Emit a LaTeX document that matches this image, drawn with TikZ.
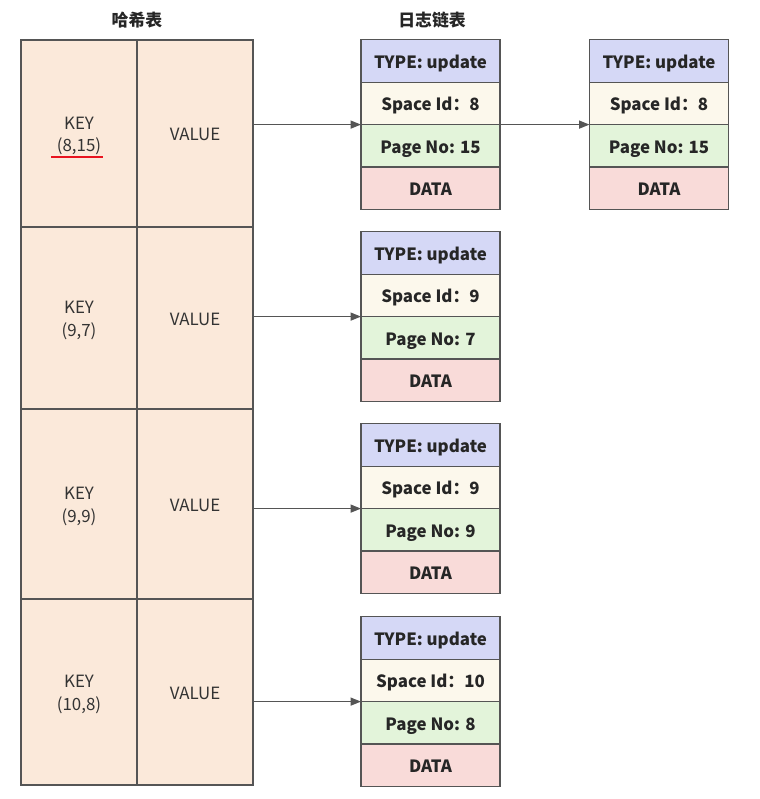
\documentclass[tikz,border=0pt]{standalone}
\usepackage{fontspec}
\setmainfont{Noto Sans CJK SC}
\usetikzlibrary{positioning}
\usetikzlibrary{arrows.meta}

\definecolor{linegray}{HTML}{555555}
\definecolor{keytext}{HTML}{333333}
\definecolor{logtext}{HTML}{262626}
\definecolor{hashfill}{HTML}{FBE9DA}
\definecolor{typefill}{HTML}{D5D8F6}
\definecolor{spacefill}{HTML}{FCF8EC}
\definecolor{pagefill}{HTML}{E3F4DA}
\definecolor{datafill}{HTML}{F9DBD9}
\definecolor{squiggle}{HTML}{E8131F}

\tikzset{
  cell/.style = {draw=linegray, line width=0.9pt, inner sep=0pt, outer sep=0pt, align=center},
  hashcell/.style = {cell, fill=hashfill, text=keytext, minimum width=2.9cm,
                     font=\fontsize{12}{16}\selectfont, text height=12pt, text depth=2pt},
  keycell/.style = {hashcell, text height=28pt, text depth=2pt},
  logcell/.style = {cell, minimum width=3.475cm, minimum height=1.06cm, text=logtext,
                    font=\fontsize{12}{14}\selectfont\bfseries, text height=12.5pt, text depth=2pt},
  typecell/.style = {logcell, fill=typefill},
  spacecell/.style = {logcell, fill=spacefill},
  pagecell/.style = {logcell, fill=pagefill},
  datacell/.style = {logcell, fill=datafill},
  title/.style = {text=logtext, font=\fontsize{12}{14}\selectfont\bfseries},
  link/.style = {draw=linegray, line width=0.9pt, -{Triangle[length=2.6mm,width=2mm]}}
}

\begin{document}
\begin{tikzpicture}

            % \draw [help lines] (0,0) grid (19,-20);
            \useasboundingbox (0,0) rectangle (19,-19.975);

            \node (hashtitle) [title] at (3.425,-0.5) {哈希表};
            \node (logtitle) [title] at (10.8,-0.5) {日志链表};

            \path   (1.975,-3.3375) node (k1) [keycell, minimum height=4.675cm] {KEY\\(8,15)}
                    (4.875,-3.3375) node (v1) [hashcell, minimum height=4.675cm] {VALUE}
                    (1.975,-7.95)   node (k2) [keycell, minimum height=4.55cm] {KEY\\(9,7)}
                    (4.875,-7.95)   node (v2) [hashcell, minimum height=4.55cm] {VALUE}
                    (1.975,-12.6)   node (k3) [keycell, minimum height=4.75cm] {KEY\\(9,9)}
                    (4.875,-12.6)   node (v3) [hashcell, minimum height=4.75cm] {VALUE}
                    (1.975,-17.3)   node (k4) [keycell, minimum height=4.65cm] {KEY\\(10,8)}
                    (4.875,-17.3)   node (v4) [hashcell, minimum height=4.65cm] {VALUE};

            \draw [squiggle, line width=1pt] (1.275,-3.925) -- (2.575,-3.925);

            % first chain, two entries
            \node (t1) [typecell] at (10.7625,-1.525) {TYPE: update};
            \node (s1) [spacecell, below=0pt of t1] {Space Id：8};
            \node (p1) [pagecell, below=0pt of s1] {Page No: 15};
            \node (d1) [datacell, below=0pt of p1] {DATA};

            \node (t1b) [typecell] at (16.475,-1.525) {TYPE: update};
            \node (s1b) [spacecell, below=0pt of t1b] {Space Id：8};
            \node (p1b) [pagecell, below=0pt of s1b] {Page No: 15};
            \node (d1b) [datacell, below=0pt of p1b] {DATA};

            \node (t2) [typecell] at (10.7625,-6.325) {TYPE: update};
            \node (s2) [spacecell, below=0pt of t2] {Space Id：9};
            \node (p2) [pagecell, below=0pt of s2] {Page No: 7};
            \node (d2) [datacell, below=0pt of p2] {DATA};

            \node (t3) [typecell] at (10.7625,-11.125) {TYPE: update};
            \node (s3) [spacecell, below=0pt of t3] {Space Id：9};
            \node (p3) [pagecell, below=0pt of s3] {Page No: 9};
            \node (d3) [datacell, below=0pt of p3] {DATA};

            \node (t4) [typecell] at (10.7625,-15.95) {TYPE: update};
            \node (s4) [spacecell, below=0pt of t4] {Space Id：10};
            \node (p4) [pagecell, below=0pt of s4] {Page No: 8};
            \node (d4) [datacell, below=0pt of p4] {DATA};

            \draw [link] (s1.south west -| v1.east) -- (s1.south west);
            \draw [link] (s1.south east) -- (s1b.south west);
            \draw [link] (s2.south west -| v2.east) -- (s2.south west);
            \draw [link] (s3.south west -| v3.east) -- (s3.south west);
            \draw [link] (s4.south west -| v4.east) -- (s4.south west);

\end{tikzpicture}
\end{document}
